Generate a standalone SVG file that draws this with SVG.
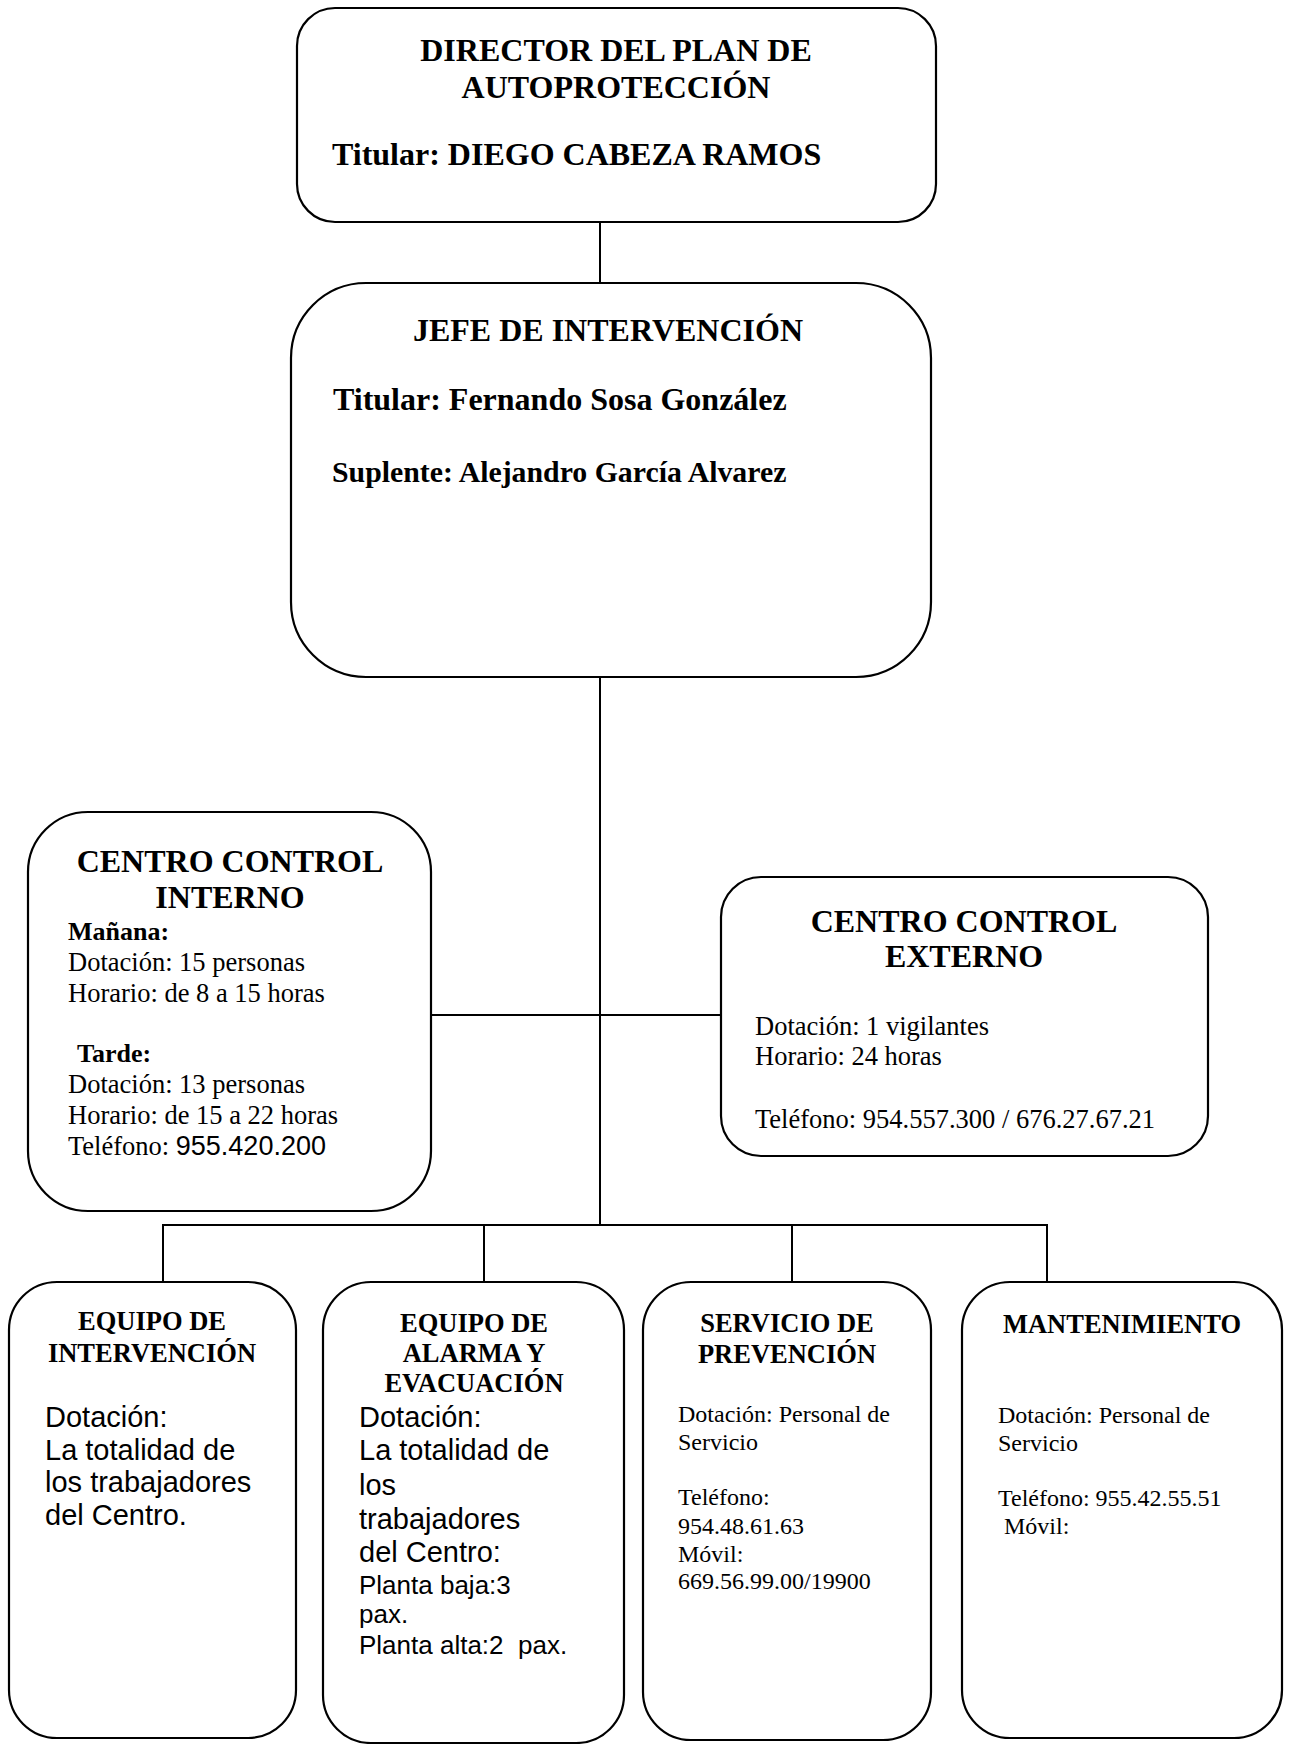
<svg xmlns="http://www.w3.org/2000/svg" width="1293" height="1744" viewBox="0 0 1293 1744">
<style>
.box{fill:#fff;stroke:#000;stroke-width:2.2}
.ln{stroke:#000;stroke-width:2;fill:none}
.t{font-family:"Liberation Serif","Times New Roman",serif;fill:#000}
.b{font-weight:bold}
.h1{font-size:32px;font-weight:bold;text-anchor:middle}
.h2{font-size:26.5px;font-weight:bold;text-anchor:middle}
.body{font-size:26.5px}
.small{font-size:24px}
.a{font-family:"Liberation Sans",Arial,sans-serif;fill:#000}
.a29{font-size:29px}
.a26{font-size:26px}
</style>
<rect width="1293" height="1744" fill="#fff"/>
<g id="connectors">
<line class="ln" x1="600" y1="222" x2="600" y2="283"/>
<line class="ln" x1="600" y1="677" x2="600" y2="1225"/>
<line class="ln" x1="431" y1="1015" x2="721" y2="1015"/>
<polyline class="ln" points="163,1282 163,1225 1047,1225 1047,1282"/>
<line class="ln" x1="484" y1="1225" x2="484" y2="1282"/>
<line class="ln" x1="792" y1="1225" x2="792" y2="1282"/>
</g>
<g id="director">
<rect class="box" x="297" y="8" width="639" height="214" rx="38" ry="38"/>
<text class="t h1" x="616" y="61">DIRECTOR DEL PLAN DE</text>
<text class="t h1" x="616" y="98">AUTOPROTECCIÓN</text>
<text class="t b" x="332" y="165" font-size="32">Titular: DIEGO CABEZA RAMOS</text>
</g>
<g id="jefe">
<rect class="box" x="291" y="283" width="640" height="394" rx="75" ry="75"/>
<text class="t h1" x="608" y="341">JEFE DE INTERVENCIÓN</text>
<text class="t b" x="333" y="410" font-size="32">Titular: Fernando Sosa González</text>
<text class="t b" x="332" y="482" font-size="29.8">Suplente: Alejandro García Alvarez</text>
</g>
<g id="centro-interno">
<rect class="box" x="28" y="812" width="403" height="399" rx="60" ry="60"/>
<text class="t h1" x="230" y="872">CENTRO CONTROL</text>
<text class="t h1" x="230" y="908">INTERNO</text>
<text class="t b" x="68" y="940" font-size="26">Mañana:</text>
<text class="t body" x="68" y="971">Dotación: 15 personas</text>
<text class="t body" x="68" y="1002">Horario: de 8 a 15 horas</text>
<text class="t b" x="77" y="1062" font-size="26">Tarde:</text>
<text class="t body" x="68" y="1093">Dotación: 13 personas</text>
<text class="t body" x="68" y="1124">Horario: de 15 a 22 horas</text>
<text class="t body" x="68" y="1155">Teléfono: <tspan class="a" font-size="27">955.420.200</tspan></text>
</g>
<g id="centro-externo">
<rect class="box" x="721" y="877" width="487" height="279" rx="40" ry="40"/>
<text class="t h1" x="964" y="932">CENTRO CONTROL</text>
<text class="t h1" x="964" y="967">EXTERNO</text>
<text class="t body" x="755" y="1035">Dotación: 1 vigilantes</text>
<text class="t body" x="755" y="1065">Horario: 24 horas</text>
<text class="t body" x="755" y="1128">Teléfono: 954.557.300 / 676.27.67.21</text>
</g>
<g id="equipo-intervencion">
<rect class="box" x="9" y="1282" width="287" height="456" rx="48" ry="48"/>
<text class="t h2" x="152" y="1330">EQUIPO DE</text>
<text class="t h2" x="152" y="1362">INTERVENCIÓN</text>
<text class="a a29" x="45" y="1427">Dotación:</text>
<text class="a a29" x="45" y="1460">La totalidad de</text>
<text class="a a29" x="45" y="1492">los trabajadores</text>
<text class="a a29" x="45" y="1525">del Centro.</text>
</g>
<g id="equipo-alarma">
<rect class="box" x="323" y="1282" width="301" height="461" rx="48" ry="48"/>
<text class="t h2" x="474" y="1332">EQUIPO DE</text>
<text class="t h2" x="474" y="1362">ALARMA Y</text>
<text class="t h2" x="474" y="1392">EVACUACIÓN</text>
<text class="a a29" x="359" y="1427">Dotación:</text>
<text class="a a29" x="359" y="1460">La totalidad de</text>
<text class="a a29" x="359" y="1495">los</text>
<text class="a a29" x="359" y="1529">trabajadores</text>
<text class="a a29" x="359" y="1562">del Centro:</text>
<text class="a a26" x="359" y="1594">Planta baja:3</text>
<text class="a a26" x="359" y="1623">pax.</text>
<text class="a a26" x="359" y="1654" xml:space="preserve">Planta alta:2  pax.</text>
</g>
<g id="servicio-prevencion">
<rect class="box" x="643" y="1282" width="288" height="458" rx="48" ry="48"/>
<text class="t h2" x="787" y="1332">SERVICIO DE</text>
<text class="t h2" x="787" y="1363">PREVENCIÓN</text>
<text class="t small" x="678" y="1422">Dotación: Personal de</text>
<text class="t small" x="678" y="1450">Servicio</text>
<text class="t small" x="678" y="1505">Teléfono:</text>
<text class="t small" x="678" y="1534">954.48.61.63</text>
<text class="t small" x="678" y="1562">Móvil:</text>
<text class="t small" x="678" y="1589">669.56.99.00/19900</text>
</g>
<g id="mantenimiento">
<rect class="box" x="962" y="1282" width="320" height="456" rx="48" ry="48"/>
<text class="t h2" x="1122" y="1333">MANTENIMIENTO</text>
<text class="t small" x="998" y="1423">Dotación: Personal de</text>
<text class="t small" x="998" y="1451">Servicio</text>
<text class="t small" x="998" y="1506">Teléfono: 955.42.55.51</text>
<text class="t small" x="1004" y="1534">Móvil:</text>
</g>
</svg>
